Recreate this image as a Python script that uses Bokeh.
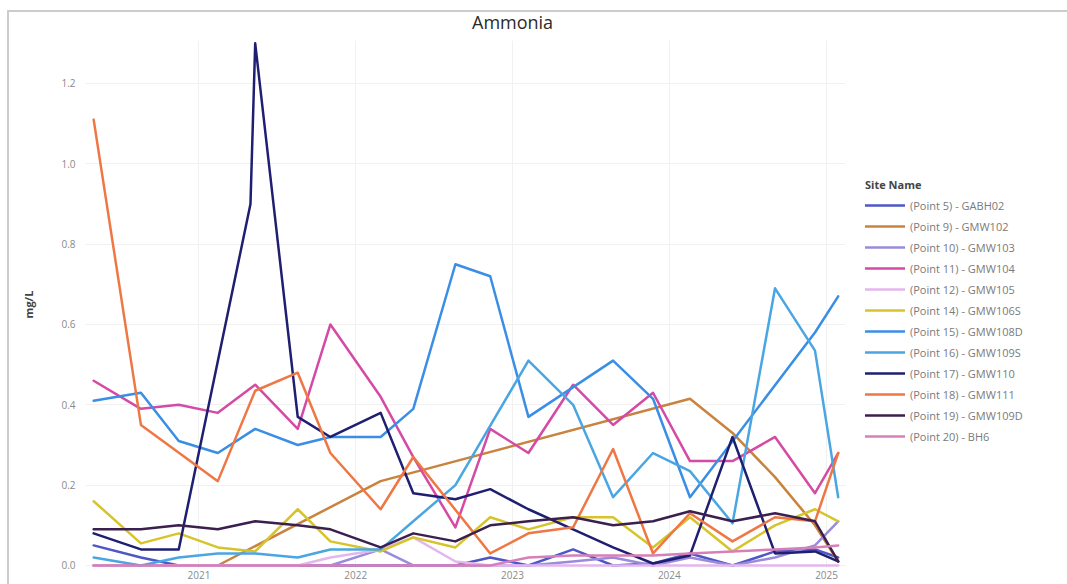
import numpy as np
import pandas as pd
from bokeh.plotting import figure
from bokeh.layouts import column
from bokeh.models import (ColumnDataSource, Legend, LegendItem, FixedTicker, Div,
                          DatetimeTickFormatter, NumeralTickFormatter, Range1d)
from bokeh.embed import file_html
from bokeh.resources import INLINE

# Sampling rounds (None = site not sampled that round)
sample_dates = ["2020-05-01", "2020-08-19", "2020-11-15", "2021-02-14", "2021-05-01",
                "2021-05-12", "2021-08-19", "2021-11-03", "2022-02-28", "2022-05-15",
                "2022-08-21", "2022-11-10", "2023-02-07", "2023-05-22", "2023-08-23",
                "2023-11-24", "2024-02-18", "2024-05-27", "2024-09-03", "2024-12-05",
                "2025-01-28"]

site_names = ["(Point 5) - GABH02", "(Point 9) - GMW102", "(Point 10) - GMW103",
              "(Point 11) - GMW104", "(Point 12) - GMW105", "(Point 14) - GMW106S",
              "(Point 15) - GMW108D", "(Point 16) - GMW109S", "(Point 17) - GMW110",
              "(Point 18) - GMW111", "(Point 19) - GMW109D", "(Point 20) - BH6"]

gabh02 = [0.05, 0.02, 0.00, 0.00, None, 0.00, 0.00, 0.00, 0.00, 0.00, 0.00, 0.02, 0.00, 0.04, 0.00, 0.005, 0.03, 0.00, 0.035, 0.04, 0.02]
gmw102 = [0.00, 0.00, 0.00, 0.00, None, None, None, None, 0.21, None, None, None, None, None, None, None, 0.415, 0.33, 0.22, 0.10, 0.01]
gmw103 = [0.00, 0.00, 0.00, 0.00, None, 0.00, 0.00, 0.00, 0.04, 0.00, 0.00, 0.00, 0.00, 0.01, 0.02, 0.00, 0.02, 0.00, 0.02, 0.05, 0.11]
gmw104 = [0.46, 0.39, 0.40, 0.38, None, 0.45, 0.34, 0.60, 0.42, 0.27, 0.095, 0.34, 0.28, 0.45, 0.35, 0.43, 0.26, 0.26, 0.32, 0.18, 0.28]
gmw105 = [0.00, 0.00, 0.00, 0.00, None, 0.00, 0.00, 0.02, 0.04, 0.07, 0.01, 0.00, 0.00, 0.00, 0.00, 0.00, 0.00, 0.00, 0.00, 0.00, 0.00]
gmw106s = [0.16, 0.055, 0.08, 0.045, None, 0.035, 0.14, 0.06, 0.035, 0.07, 0.045, 0.12, 0.09, 0.12, 0.12, 0.045, 0.12, 0.035, 0.10, 0.14, 0.11]
gmw108d = [0.41, 0.43, 0.31, 0.28, None, 0.34, 0.30, 0.32, 0.32, 0.39, 0.75, 0.72, 0.37, None, 0.51, 0.415, 0.17, None, None, 0.58, 0.67]
gmw109s = [0.02, 0.00, 0.02, 0.03, None, 0.03, 0.02, 0.04, 0.04, 0.11, 0.20, None, 0.51, 0.40, 0.17, 0.28, 0.235, 0.105, 0.69, 0.535, 0.17]
gmw110 = [0.08, 0.04, 0.04, None, 0.90, 1.30, 0.37, 0.32, 0.38, 0.18, 0.165, 0.19, 0.14, 0.09, 0.045, 0.005, 0.025, 0.32, 0.03, 0.035, 0.01]
gmw111 = [1.11, 0.35, None, 0.21, None, 0.435, 0.48, 0.28, 0.14, 0.27, None, 0.03, 0.08, 0.095, 0.29, 0.03, 0.13, 0.06, 0.12, 0.11, 0.28]
gmw109d = [0.09, 0.09, 0.10, 0.09, None, 0.11, 0.10, 0.09, 0.045, 0.08, 0.06, 0.10, 0.11, 0.12, 0.10, 0.11, 0.135, 0.11, 0.13, 0.11, 0.01]
bh6 = [0.00, 0.00, 0.00, 0.00, None, 0.00, 0.00, 0.00, 0.00, 0.00, 0.00, 0.00, 0.02, 0.025, 0.025, 0.025, 0.03, 0.035, 0.04, 0.045, 0.05]

site_values = [gabh02, gmw102, gmw103, gmw104, gmw105, gmw106s,
               gmw108d, gmw109s, gmw110, gmw111, gmw109d, bh6]

site_colors = ["#4f57c6", "#c8843e", "#9a8bdb", "#d44aa4", "#e3b6ee", "#d6c42a",
               "#3a8ee6", "#4aa6e2", "#1f1f72", "#ee7744", "#3b1f4f", "#d77fb8"]

y_ticks = [0.0, 0.2, 0.4, 0.6, 0.8, 1.0, 1.2]
year_ticks = [2021, 2022, 2023, 2024, 2025]

FONT = "Open Sans"

dates = pd.to_datetime(sample_dates)
x_start = pd.Timestamp("2020-04-12")
x_end = pd.Timestamp("2025-02-14")

p = figure(frame_width=760, frame_height=528, x_axis_type="datetime",
           output_backend="svg", toolbar_location=None,
           x_range=Range1d(x_start, x_end), y_range=Range1d(-0.0075, 1.307),
           min_border_left=76, min_border_right=222,
           min_border_top=10, min_border_bottom=16)
p.title = None
p.margin = (0, 0, 0, 0)

p.outline_line_color = None
p.background_fill_color = "white"
p.border_fill_color = "white"

p.xgrid.grid_line_color = "#f1f1f1"
p.ygrid.grid_line_color = "#f1f1f1"

p.xaxis.ticker = FixedTicker(ticks=[pd.Timestamp(f"{y}-01-01").value / 1e6 for y in year_ticks])
p.xaxis.formatter = DatetimeTickFormatter(years="%Y", months="%Y", days="%Y",
                                          hours="%Y", minutes="%Y", seconds="%Y")
p.yaxis.ticker = FixedTicker(ticks=y_ticks)
p.yaxis.formatter = NumeralTickFormatter(format="0.0")

for ax in (p.xaxis[0], p.yaxis[0]):
    ax.axis_line_color = None
    ax.major_tick_line_color = None
    ax.minor_tick_line_color = None
    ax.major_tick_out = 0
    ax.major_tick_in = 0
    ax.major_label_text_font = FONT
    ax.major_label_text_font_size = "10px"
    ax.major_label_text_color = "#8a8a8a"
p.xaxis.major_label_standoff = 2
p.yaxis.major_label_standoff = 10
p.yaxis.axis_label = "mg/L"
p.yaxis.axis_label_text_font = FONT
p.yaxis.axis_label_text_font_size = "11px"
p.yaxis.axis_label_text_font_style = "bold"
p.yaxis.axis_label_text_color = "#444444"
p.yaxis.axis_label_standoff = 22

items = []
for name, vals, color in zip(site_names, site_values, site_colors):
    keep = [v is not None for v in vals]
    src = ColumnDataSource(dict(
        x=[d for d, k in zip(dates, keep) if k],
        y=[v for v in vals if v is not None],
    ))
    r = p.line("x", "y", source=src, line_color=color, line_width=2.5,
               line_join="round", line_cap="round")
    items.append(LegendItem(label=name, renderers=[r]))

# Legend in the right-hand panel, beside the plotting frame
legend = Legend(items=items, title="Site Name", location=(20, 123))
legend.title_text_font = FONT
legend.title_text_font_size = "11px"
legend.title_text_font_style = "bold"
legend.title_text_color = "#444444"
legend.title_standoff = 4
legend.label_text_font = FONT
legend.label_text_font_size = "11px"
legend.label_text_color = "#7a7a7a"
legend.glyph_width = 40
legend.glyph_height = 18
legend.label_height = 18
legend.label_standoff = 5
legend.spacing = 3
legend.padding = 10
legend.margin = 0
legend.border_line_color = None
legend.background_fill_alpha = 0
p.add_layout(legend, "right")

# Chart heading sits in a strip above the figure
heading = Div(text="Ammonia", width=1058, height=18, margin=(0, 0, 0, 0),
              styles={"font-family": FONT, "font-size": "18px", "color": "#2a2a2a",
                      "line-height": "20px", "padding-left": "463px",
                      "background-color": "white"})

page = column(heading, p, spacing=0, margin=(0, 0, 0, 0),
              styles={"margin-left": "7px", "margin-top": "10px",
                      "border-left": "2px solid #cccccc",
                      "border-top": "2px solid #cccccc",
                      "background-color": "white"})

open("out.html", "w").write(file_html(page, INLINE))
